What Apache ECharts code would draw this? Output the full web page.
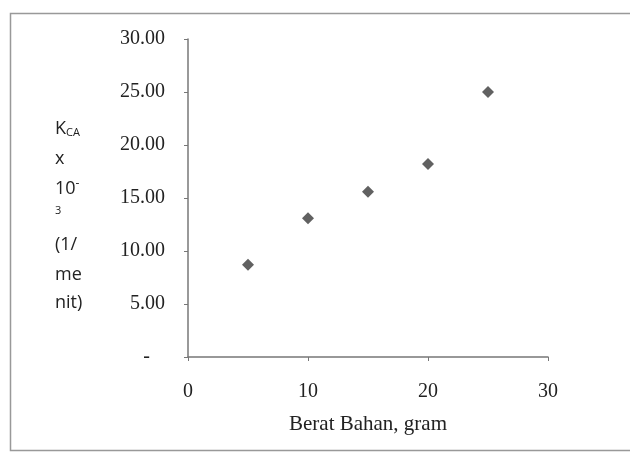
<!DOCTYPE html>
<html><head><meta charset="utf-8">
<script src="https://cdn.jsdelivr.net/npm/echarts@6/dist/echarts.min.js"></script>
<style>html,body{margin:0;padding:0;background:#fff}#c{width:630px;height:455px}</style>
</head><body><div id="c"></div>
<script>
const xValues = [5, 10, 15, 20, 25];
const yValues = [8.7, 13.1, 15.6, 18.2, 25.0];
const xTicks = [0, 10, 20, 30];
const yTicks = [0, 5, 10, 15, 20, 25, 30];
const xTitle = 'Berat Bahan, gram';
const yTitleLines = ['K{s|CA}', 'x', '10{u|-}', '{s|3}', '(1/', 'me', 'nit)'];

const chart = echarts.init(document.getElementById('c'));
const serif = '"Liberation Serif", "DejaVu Serif", serif';
const sans = '"Open Sans", "Liberation Sans", sans-serif';
const yTitleTops = [120, 150, 178, 205, 236, 266, 294];
chart.setOption({
  animation: false,
  backgroundColor: '#fff',
  grid: { left: 188, right: 82, top: 39, bottom: 98 },
  xAxis: {
    type: 'value', min: xTicks[0], max: xTicks[xTicks.length - 1], interval: 10,
    name: xTitle, nameLocation: 'middle', nameGap: 57,
    nameTextStyle: { fontFamily: serif, fontSize: 21, color: '#222' },
    axisLine: { show: true, lineStyle: { color: '#777', width: 1.5 } },
    axisTick: { show: true, length: 4, lineStyle: { color: '#777' } },
    axisLabel: { fontFamily: serif, fontSize: 20, color: '#222', margin: 25 },
    splitLine: { show: false }
  },
  yAxis: {
    type: 'value', min: yTicks[0], max: yTicks[yTicks.length - 1], interval: 5,
    axisLine: { show: true, lineStyle: { color: '#777', width: 1.5 } },
    axisTick: { show: true, length: 4, lineStyle: { color: '#777' } },
    axisLabel: { fontFamily: serif, fontSize: 20, color: '#222', margin: 23,
      formatter: v => v === 0 ? '-   ' : v.toFixed(2) },
    splitLine: { show: false }
  },
  series: [{
    type: 'scatter', symbol: 'diamond', symbolSize: 12,
    itemStyle: { color: '#3a3a3a' },
    data: xValues.map((x, i) => [x, yValues[i]])
  }],
  graphic: [
    { type: 'rect', shape: { x: 10.5, y: 13.5, width: 640, height: 437 },
      style: { fill: 'none', stroke: '#999', lineWidth: 1.5 } }
  ].concat(yTitleLines.map((t, i) => ({
    type: 'text', left: 55, top: yTitleTops[i], style: {
      text: t, fontFamily: sans, fontSize: i === 3 ? 11 : 18, fill: '#222',
      rich: {
        s: { fontSize: 11, fontFamily: sans, fill: '#222', verticalAlign: 'bottom', padding: [8, 0, 0, 0] },
        u: { fontSize: 12, fontFamily: sans, fill: '#222', verticalAlign: 'top', padding: [0, 0, 10, 0] }
      } } })))
});
</script></body></html>
